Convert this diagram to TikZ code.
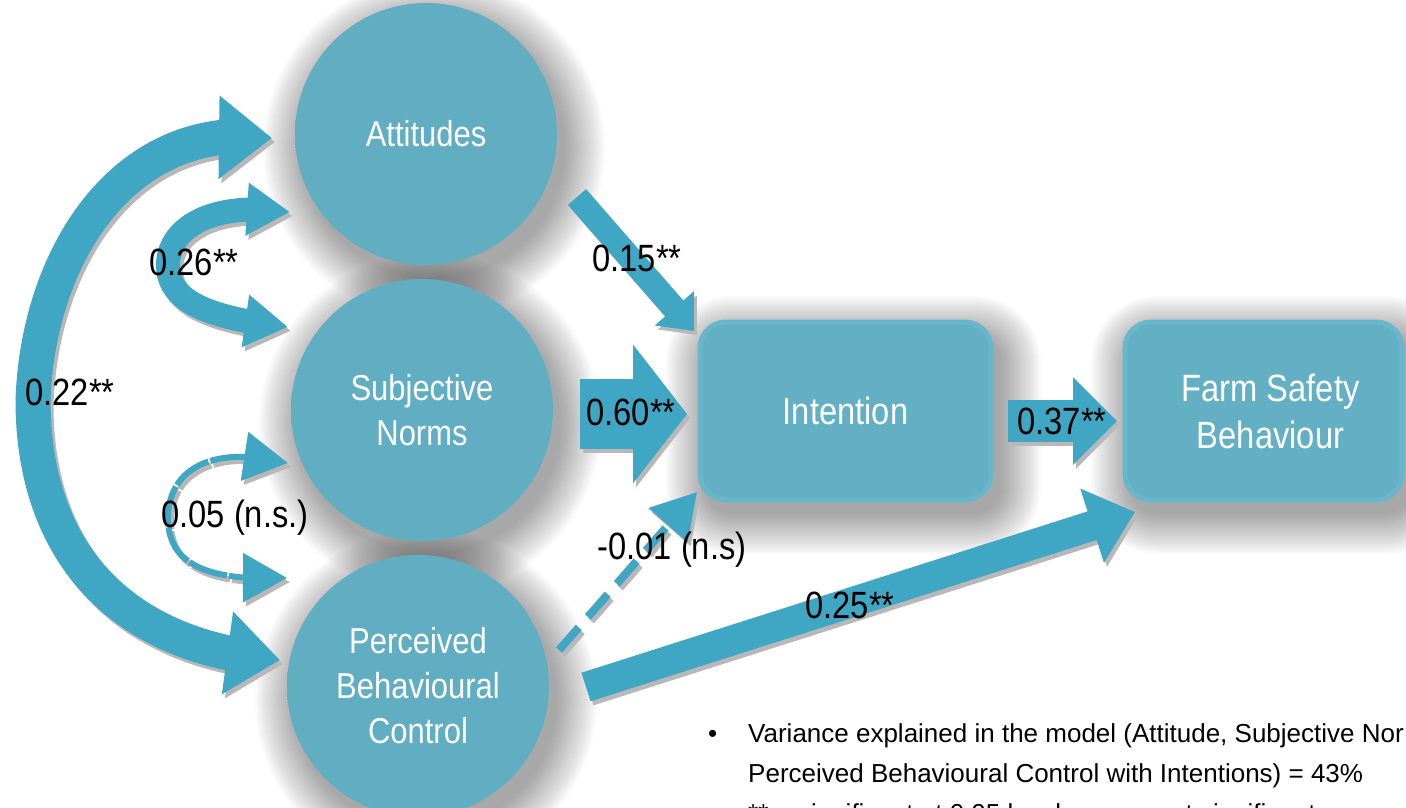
\documentclass[tikz,border=0pt]{standalone}
\usepackage{fontspec}
\setmainfont{Liberation Sans}
\newfontfamily\nar{Liberation Sans}[FakeStretch=0.86]
\usetikzlibrary{arrows.meta,bending}
\definecolor{arrowc}{HTML}{3FA6C3}
\definecolor{ballin}{HTML}{61ADC2}
\definecolor{ballout}{HTML}{6EBBCF}
\definecolor{boxc}{HTML}{63AFC4}
\definecolor{boxrim}{HTML}{69B5CA}
\pgfdeclareradialshading{ballshade}{\pgfpoint{0bp}{0bp}}{color(0bp)=(ballin); color(33bp)=(ballin); color(50bp)=(ballout)}
\newcommand\allarrows[1]{%
\draw[fat=35pt, tips={53pt}{80pt}, #1] (a22s) .. controls (125,118) and (38,255) .. (33,400)
   .. controls (33,560) and (130,650) .. (a22e);
\draw[fat=24pt, tips={43pt}{50pt}, #1] (a26s) .. controls (205,200) and (168,232) .. (168,265)
   .. controls (168,300) and (205,318) .. (a26e);
\draw[fat=6pt, dash pattern=on 40pt off 2pt, tips={44pt}{48pt}, #1] (a05s) .. controls (200,442) and (168,478) .. (168,518)
   .. controls (168,560) and (200,582) .. (a05e);
\draw[fat=24pt, tip={30pt}{50pt}, #1] (a15s) -- (a15e);
\draw[fat=70pt, tip={54pt}{136pt}, #1] (a60s) -- (a60e);
\draw[fat=42pt, tip={44pt}{85pt}, #1] (a37s) -- (a37e);
\draw[fat=30pt, tip={45pt}{75pt}, #1] (a25s) -- (a25e);
\draw[fat=8pt, dash pattern=on 30pt off 14pt, tip={44pt}{50pt}, #1] (a01s) -- (a01e);}
\begin{document}
\begin{tikzpicture}[x=1pt,y=-1pt,
  shlayer/.style={fill=black, fill opacity=0.018, draw=none},
  ball/.style={circle, minimum size=262pt, inner sep=0pt, shading=ballshade, text=white,
    font=\nar\fontsize{36}{45}\selectfont, align=center},
  box/.style={rectangle, rounded corners=26pt, fill=boxc, draw=boxrim, line width=5pt, text=white, align=center,
    font=\nar\fontsize{38}{47}\selectfont, minimum height=178pt, inner sep=0pt},
  lab/.style={font=\nar\fontsize{38}{44}\selectfont, text=black, inner sep=0pt},
  note/.style={font=\fontsize{26}{40}\selectfont, text=black, inner sep=0pt, anchor=base west},
  fat/.style={draw=arrowc, line width=#1},
  tip/.style n args={2}{arrows={-{Triangle[length=#1,width=#2]}}},
  tips/.style n args={2}{arrows={{Triangle[length=#1,width=#2]}-{Triangle[length=#1,width=#2]}}}
]
\useasboundingbox (0,0) rectangle (1406,808);
\clip (0,0) rectangle (1406,808);

% soft shadows of the shapes
\foreach \e in {0,2,...,40}{
  \fill[shlayer] (434,148) circle [radius=131+\e];
  \fill[shlayer] (430,424) circle [radius=131+\e];
  \fill[shlayer] (426,700) circle [radius=131+\e];
  \fill[shlayer, rounded corners=26+\e] (706-\e,336-\e) rectangle (1001+\e,514+\e);
  \fill[shlayer, rounded corners=26+\e] (1131-\e,336-\e) rectangle (1412+\e,514+\e);
}

% nodes
\node[ball] (att) at (426,134) {Attitudes};
\node[ball] (sn) at (422,410) {Subjective\\Norms};
\node[ball] (pbc) at (418,686) {Perceived\\Behavioural\\Control};
\node[box, minimum width=291pt] (int) at (845.5,411) {Intention};
\node[box, minimum width=277pt] (fsb) at (1263.5,411) {\hspace*{14pt}Farm Safety\\\hspace*{14pt}Behaviour};

% connector end points
\coordinate (a22s) at (272,138);
\coordinate (a22e) at (280,660);
\coordinate (a26s) at (290,212);
\coordinate (a26e) at (288,327);
\coordinate (a05s) at (288,463);
\coordinate (a05e) at (287,578);
\coordinate (a15s) at (577,197);
\coordinate (a15e) at (694,331);
\coordinate (a60s) at (580,414);
\coordinate (a60e) at (687,414);
\coordinate (a37s) at (1008,421);
\coordinate (a37e) at (1117,421);
\coordinate (a25s) at (586,687);
\coordinate (a25e) at (1135,512);
\coordinate (a01s) at (559,650);
\coordinate (a01e) at (697,492);

% arrow shadows
\begin{scope}[transform canvas={shift={(3pt,-4pt)}}]
\allarrows{draw=black!28}
\end{scope}
% arrows
\allarrows{}

% labels
\node[lab] (l26) at (194,262) {0.26**};
\node[lab] (l22) at (70,392) {0.22**};
\node[lab] (l05) at (235,518) {0.05 (n.s.)};
\node[lab] (l15) at (637,258) {0.15**};
\node[lab] (l60) at (631,412) {0.60**};
\node[lab] (l37) at (1062,421) {0.37**};
\node[lab] (l01) at (672,550) {-0.01 (n.s)};
\node[lab] (l25) at (850,605) {0.25**};

% notes
\node[note] (b1) at (708,742) {•};
\node[note] (n1) at (748,742) {Variance explained in the model (Attitude, Subjective Nor};
\node[note] (n2) at (748,782) {Perceived Behavioural Control with Intentions) = 43\%};
\node[note] (b3) at (708,822) {•};
\node[note] (n3) at (748,822) {** = significant at 0.05 level;\ \ n.s. = not significant};
\end{tikzpicture}
\end{document}
